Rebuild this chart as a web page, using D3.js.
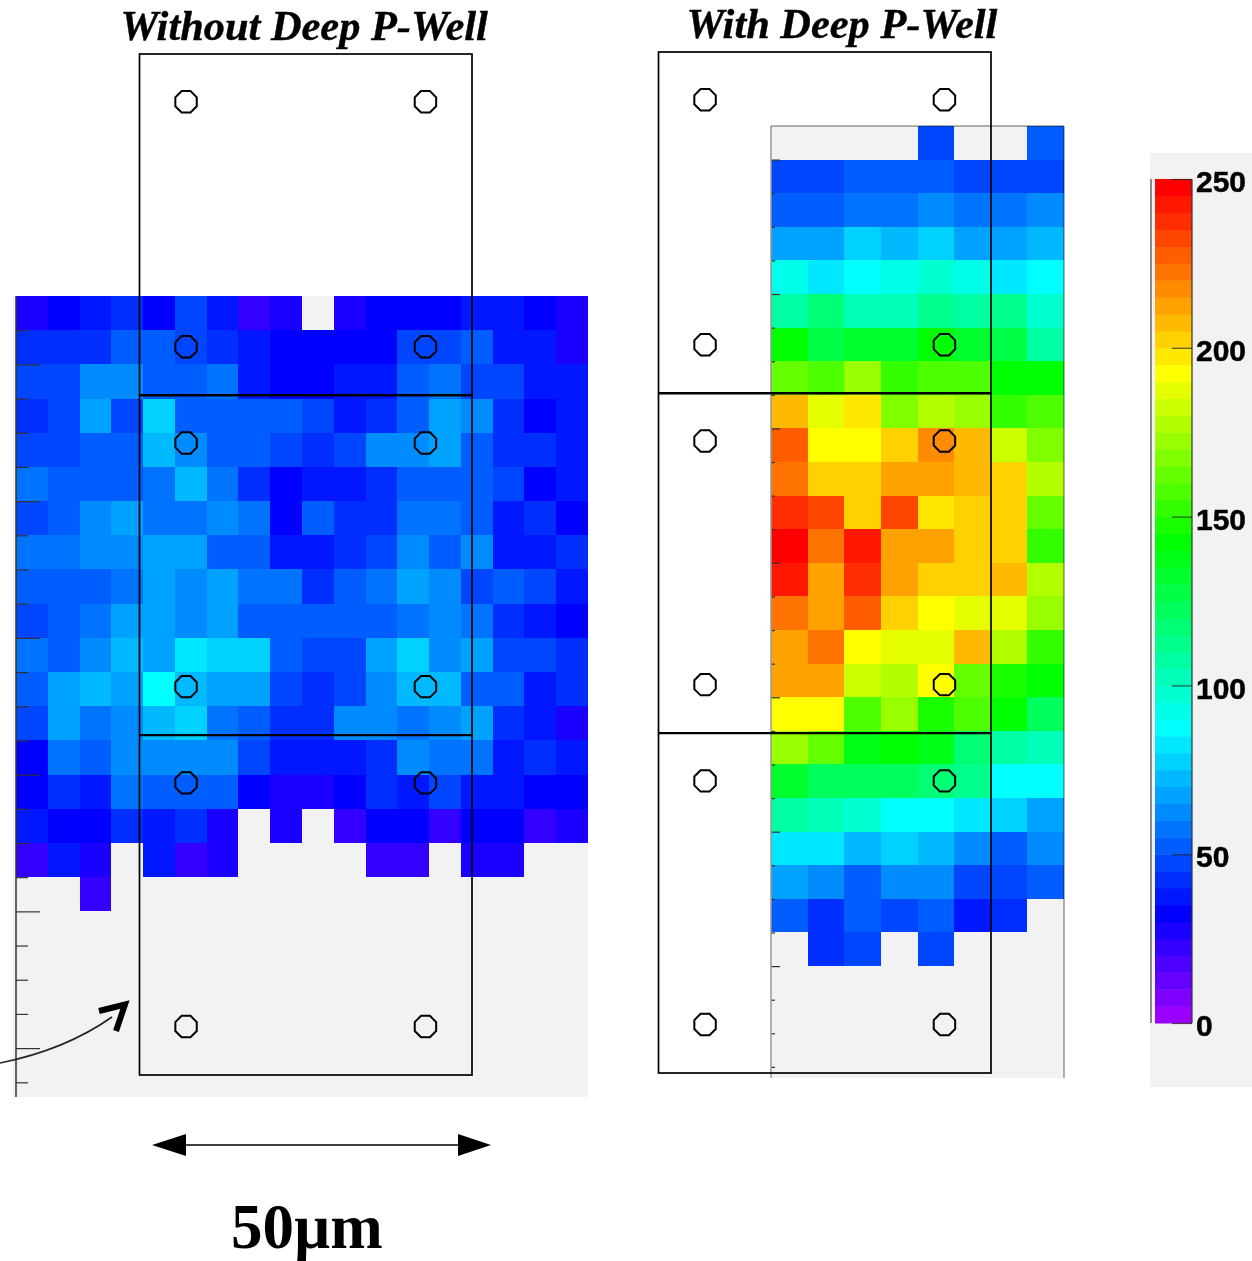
<!DOCTYPE html>
<html>

<head>
    <meta charset="utf-8">
    <style>
        body {
            margin: 0;
            background: #fff;
        }

        svg {
            display: block;
        }

        .title {
            font-family: 'Liberation Serif', serif;
            font-weight: bold;
            font-style: italic;
            font-size: 42.4px;
            stroke: #000;
            stroke-width: 0.4px;
        }

        .scale-label {
            font-family: 'Liberation Serif', serif;
            font-weight: bold;
            font-size: 63px;
        }
    </style>
</head>

<body>
    <svg width="1252" height="1261"></svg>

    <script src="https://d3js.org/d3.v7.min.js"></script>
    <script>
        // counts per pixel. null = empty bin (pad shows through)
        const withoutWell = [
            [27, 32, 37, 42, 32, 47, 37, 22, 27, null, 27, 32, 32, 32, 37, 37, 32, 27],
            [42, 42, 42, 52, 52, 47, 42, 37, 32, 32, 32, 32, 47, 47, 52, 37, 37, 27],
            [47, 47, 62, 62, 52, 52, 57, 37, 32, 32, 37, 37, 52, 57, 47, 47, 37, 37],
            [42, 47, 67, 47, 77, 52, 52, 52, 52, 47, 37, 42, 52, 67, 62, 42, 32, 37],
            [47, 47, 52, 52, 72, 62, 52, 52, 47, 42, 47, 62, 62, 67, 52, 42, 42, 37],
            [57, 52, 52, 52, 57, 72, 57, 42, 32, 37, 37, 42, 52, 52, 52, 47, 32, 37],
            [47, 52, 62, 67, 57, 57, 62, 57, 32, 52, 42, 42, 57, 57, 52, 37, 42, 32],
            [57, 57, 62, 62, 67, 67, 52, 52, 37, 37, 42, 47, 62, 52, 62, 37, 37, 42],
            [52, 52, 52, 57, 67, 62, 67, 57, 57, 42, 52, 57, 67, 62, 47, 52, 47, 37],
            [47, 52, 57, 67, 67, 62, 67, 52, 52, 52, 52, 52, 57, 62, 57, 42, 37, 32],
            [57, 52, 62, 72, 67, 82, 77, 77, 52, 47, 47, 67, 77, 62, 67, 47, 47, 42],
            [52, 67, 72, 67, 87, 72, 67, 67, 47, 42, 47, 62, 72, 72, 52, 52, 37, 42],
            [47, 67, 57, 62, 72, 77, 57, 52, 42, 42, 62, 62, 57, 62, 67, 42, 37, 27],
            [32, 57, 52, 62, 62, 62, 62, 47, 37, 37, 37, 42, 62, 57, 57, 37, 42, 37],
            [32, 42, 37, 57, 52, 52, 52, 32, 27, 27, 32, 42, 37, 47, 37, 37, 32, 32],
            [37, 32, 32, 42, 37, 42, 27, null, 27, null, 22, 32, 32, 22, 32, 32, 22, 27],
            [22, 37, 27, null, 37, 22, 27, null, null, null, null, 22, 22, null, 27, 27, null, null],
            [null, null, 22, null, null, null, null, null, null, null, null, null, null, null, null, null, null, null]
        ]

        const withWell = [
            [null, null, null, null, 47, null, null, 52],
            [47, 47, 52, 52, 52, 47, 47, 47],
            [52, 52, 57, 57, 62, 57, 57, 62],
            [67, 67, 77, 72, 77, 67, 67, 72],
            [92, 82, 87, 92, 97, 92, 82, 87],
            [107, 117, 102, 102, 112, 107, 112, 97],
            [142, 127, 132, 132, 142, 132, 127, 107],
            [162, 157, 172, 152, 157, 157, 142, 142],
            [207, 187, 197, 167, 177, 172, 152, 157],
            [227, 192, 192, 202, 217, 207, 182, 167],
            [222, 202, 202, 212, 212, 207, 202, 177],
            [237, 232, 202, 232, 197, 202, 202, 162],
            [247, 222, 242, 212, 212, 202, 202, 152],
            [242, 212, 237, 212, 202, 202, 207, 177],
            [222, 212, 227, 202, 192, 187, 187, 172],
            [212, 222, 192, 187, 187, 207, 177, 152],
            [212, 212, 182, 177, 192, 162, 147, 142],
            [192, 192, 157, 172, 147, 157, 142, 122],
            [172, 162, 137, 142, 137, 117, 107, 102],
            [132, 122, 122, 122, 117, 112, 87, 87],
            [107, 102, 97, 87, 87, 82, 77, 67],
            [82, 82, 72, 77, 72, 62, 52, 62],
            [67, 62, 52, 62, 62, 47, 47, 52],
            [52, 42, 52, 47, 52, 37, 42, null],
            [null, 42, 47, null, 47, null, null, null]
        ]

        const zTicks = [0, 50, 100, 150, 200, 250]

        // rainbow palette, 50 bins over 0-250
        const paletteStops = [0, 6, 17, 28, 38, 49]
        const paletteColors = ["#9900ff", "#0000ff", "#00ffff", "#00ff00", "#ffff00", "#ff0000"]

        // sensor outline in micrometres, measured from the top left corner of the matrix
        const rowEdges = [51.4, 102.6]
        const padX = [7, 43]
        const padY = [7.2, 44.1, 58.6, 95.3, 109.8, 146.5]
        const matrixWidth = 50
        const matrixHeight = 153.8

        let svg = d3.select("svg")

        let paletteIndex = d3.scaleLinear().domain(paletteStops).range(paletteColors)
        let nBins = 50
        let color = d3.scaleQuantize()
            .domain([0, 250])
            .range(d3.range(nBins).map(i => paletteIndex(i)))

        function drawMap(panel) {
            let g = svg.append("g")

            let x = d3.scaleLinear().domain([0, panel.nCols]).range([panel.x0, panel.x1])
            let y = d3.scaleLinear().domain([0, panel.nRows]).range([panel.y0, panel.y1])

            g.append("rect")
                .attr("x", panel.x0 - panel.padLeft)
                .attr("y", panel.y0)
                .attr("width", panel.x1 - panel.x0 + panel.padLeft)
                .attr("height", panel.y1 - panel.y0)
                .style("fill", "#f2f2f2")

            let cells = panel.values.flatMap((row, r) => row.map((v, c) => ({ r, c, v })))
                .filter(d => d.v != null)

            g.selectAll(".cell")
                .data(cells)
                .join("rect")
                .attr("class", "cell")
                .attr("x", d => x(d.c))
                .attr("y", d => y(d.r))
                .attr("width", d => x(d.c + 1) - x(d.c))
                .attr("height", d => y(d.r + 1) - y(d.r))
                .attr("shape-rendering", "crispEdges")
                .style("fill", d => color(d.v))

            // short and long ticks, every 4th is long
            let allTicks = d3.range(1, Math.ceil(panel.nRows))
            let longTicks = allTicks.filter(k => (k - panel.longOffset) % 4 == 0)
            let shortTicks = allTicks.filter(k => (k - panel.longOffset) % 4 != 0)

            let axisShort = d3.axisRight(y).tickValues(shortTicks).tickSize(panel.tickShort).tickFormat("")
            let axisLong = d3.axisRight(y).tickValues(longTicks).tickSize(panel.tickLong).tickFormat("")

            for (let a of [axisShort, axisLong]) {
                let ax = g.append("g").attr("transform", `translate(${panel.x0},0)`).call(a)
                ax.select(".domain").remove()
                ax.selectAll("line").style("stroke", "#333").style("stroke-width", 1.2)
            }

            g.append("line")
                .attr("x1", panel.x0).attr("x2", panel.x0)
                .attr("y1", panel.y0).attr("y2", panel.y1)
                .style("stroke", panel.axisColor)
                .style("stroke-width", 1.5)

            if (panel.boxed) {
                g.append("path")
                    .attr("d", `M${panel.x0},${panel.y0}H${panel.x1}V${panel.y1}`)
                    .style("fill", "none")
                    .style("stroke", "#666")
                    .style("stroke-width", 1)
                    .style("mix-blend-mode", "multiply")
            }
        }

        function drawSensor(origin) {
            let g = svg.append("g")
            let mx = d3.scaleLinear().domain([0, matrixWidth]).range([origin.x, origin.x + 332.5])
            let my = d3.scaleLinear().domain([0, matrixHeight]).range([origin.y, origin.y + 1021])

            g.append("rect")
                .attr("x", mx(0))
                .attr("y", my(0))
                .attr("width", mx(matrixWidth) - mx(0))
                .attr("height", my(matrixHeight) - my(0))
                .style("fill", "none")
                .style("stroke", "#000")
                .style("stroke-width", 1.7)

            g.selectAll(".edge")
                .data(rowEdges)
                .join("line")
                .attr("class", "edge")
                .attr("x1", mx(0))
                .attr("x2", mx(matrixWidth))
                .attr("y1", d => my(d))
                .attr("y2", d => my(d))
                .style("stroke", "#000")
                .style("stroke-width", 2.4)

            let octagon = d3.line().curve(d3.curveLinearClosed)
            let corners = d3.range(8).map(i => {
                let a = Math.PI / 8 + i * Math.PI / 4
                return [11.6 * Math.cos(a), 11.6 * Math.sin(a)]
            })

            g.selectAll(".pad")
                .data(d3.cross(padX, padY))
                .join("path")
                .attr("class", "pad")
                .attr("transform", d => `translate(${mx(d[0])},${my(d[1])})`)
                .attr("d", octagon(corners))
                .style("fill", "none")
                .style("stroke", "#000")
                .style("stroke-width", 2)
        }

        drawMap({
            values: withoutWell, nCols: 18, nRows: 23.43,
            x0: 16, x1: 588, y0: 296, y1: 1097,
            padLeft: 3, tickShort: 12, tickLong: 24, longOffset: 2,
            axisColor: "#333", boxed: false
        })

        drawMap({
            values: withWell, nCols: 8, nRows: 28.33,
            x0: 771, x1: 1064, y0: 126, y1: 1078,
            padLeft: 0, tickShort: 4, tickLong: 9, longOffset: 1,
            axisColor: "#999", boxed: true
        })

        drawSensor({ x: 139.5, y: 54 })
        drawSensor({ x: 658.5, y: 52 })

        // colour bar
        let zg = svg.append("g")
        zg.append("rect")
            .attr("x", 1150).attr("y", 153)
            .attr("width", 102).attr("height", 934)
            .style("fill", "#f2f2f2")

        let zy = d3.scaleLinear().domain([0, 250]).range([1023, 179])
        let binWidth = 250 / nBins

        zg.selectAll(".bin")
            .data(d3.range(nBins))
            .join("rect")
            .attr("class", "bin")
            .attr("x", 1155)
            .attr("width", 37)
            .attr("y", d => zy((d + 1) * binWidth))
            .attr("height", d => zy(d * binWidth) - zy((d + 1) * binWidth) + 0.5)
            .style("fill", d => color((d + 0.5) * binWidth))

        zg.append("line")
            .attr("x1", 1151).attr("x2", 1151)
            .attr("y1", zy(250)).attr("y2", zy(0))
            .style("stroke", "#445")
            .style("stroke-width", 1.2)

        zg.append("line")
            .attr("x1", 1192).attr("x2", 1192)
            .attr("y1", zy(250)).attr("y2", zy(0))
            .style("stroke", "#333")
            .style("stroke-width", 1.2)

        let zAxis = d3.axisRight(zy).tickValues(zTicks).tickSize(-20).tickPadding(4)
        let zAxisG = zg.append("g")
            .attr("class", "z-axis")
            .attr("transform", "translate(1192,0)")
            .call(zAxis)
        zAxisG.select(".domain").remove()
        zAxisG.selectAll("line").style("stroke", "#222").style("stroke-opacity", 0.75).style("stroke-width", 1.2)
        zAxisG.selectAll("text")
            .attr("dy", "0.42em")
            .style("font-family", "'Liberation Sans', Arial, sans-serif")
            .style("font-weight", "bold")
            .style("font-size", "30px")
            .style("fill", "#000")
            .style("stroke", "#000")
            .style("stroke-width", 0.5)

        // titles
        svg.append("text").attr("class", "title").attr("x", 120.5).attr("y", 40).text("Without Deep P-Well")
        svg.append("text").attr("class", "title").attr("x", 686.5).attr("y", 38).text("With Deep P-Well")

        // 50 um arrow
        svg.append("line")
            .attr("x1", 186).attr("x2", 458)
            .attr("y1", 1145).attr("y2", 1145)
            .style("stroke", "#000")
            .style("stroke-width", 1.3)
        svg.append("path").attr("d", "M152,1145L186,1134V1156Z").style("fill", "#000")
        svg.append("path").attr("d", "M491,1145L458,1134V1156Z").style("fill", "#000")
        svg.append("text").attr("class", "scale-label").attr("x", 231).attr("y", 1248).text("50µm")

        // curved arrow, lower left
        svg.append("path")
            .attr("d", "M0,1063Q65,1050 112,1017")
            .style("fill", "none")
            .style("stroke", "#222")
            .style("stroke-width", 1.6)
        svg.append("path")
            .attr("d", "M99,1011L125,1004.5L116,1031")
            .style("fill", "none")
            .style("stroke", "#000")
            .style("stroke-width", 6)
    </script>
</body>

</html>
